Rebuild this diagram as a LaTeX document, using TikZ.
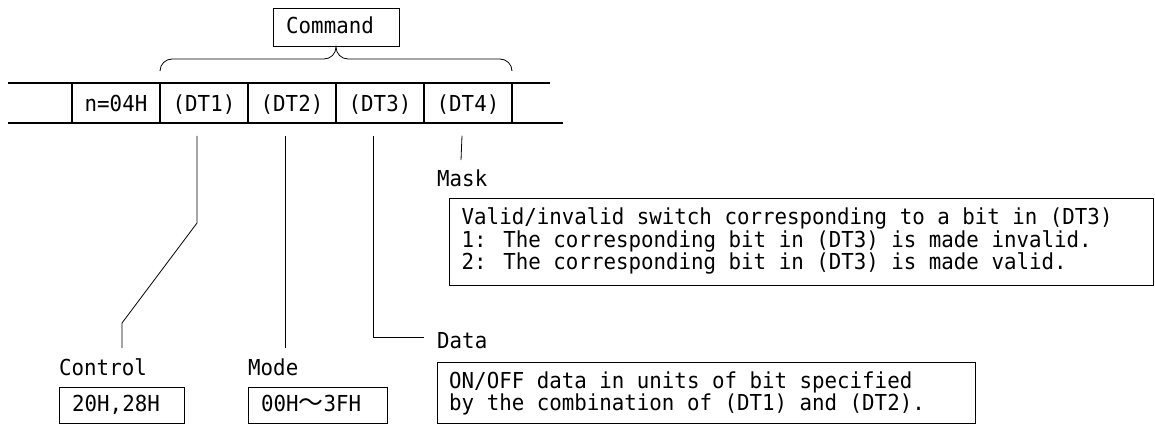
\documentclass[tikz,border=0pt]{standalone}
\usepackage{fontspec}
\usetikzlibrary{calc}
\newfontfamily\gfont[FakeStretch=0.945]{DejaVu Sans Mono}
\newfontfamily\cjk[Scale=1.13]{Noto Sans CJK JP}
\begin{document}
\begin{tikzpicture}[x=1pt,y=1pt,
  txt/.style={font=\gfont\fontsize{22}{21.5}\selectfont, inner sep=0pt, anchor=base west},
  cell/.style={draw, line width=1.5pt, minimum width=88pt, minimum height=40pt, inner sep=0pt,
    font=\gfont\fontsize{22}{21.5}\selectfont, text height=16pt, text depth=0pt},
  rowline/.style={line width=1.5pt},
  boxe/.style={draw, line width=0.9pt, inner sep=0pt, anchor=north west},
  leader/.style={line width=0.8pt}]
\useasboundingbox (0,0) rectangle (1155,-423);

% Command box and brace
\node[boxe, minimum width=126pt, minimum height=38pt] (cmdbox) at (273,-8) {};
\node[txt] (cmd) at (286,-33.5) {Command};
\draw[leader] (160,-71) arc[start angle=180,end angle=90,radius=12] -- (324,-59)
  arc[start angle=270,end angle=360,radius=12]
  arc[start angle=180,end angle=270,radius=12] -- (500,-59)
  arc[start angle=90,end angle=0,radius=12];

% frame row
\draw[rowline] (8,-83) -- (550,-83);
\draw[rowline] (8,-123) -- (563,-123);
\node[cell] (n) at (116,-103) {n=04H};
\node[cell] (dt1) at (204,-103) {(DT1)};
\node[cell] (dt2) at (292,-103) {(DT2)};
\node[cell] (dt3) at (380,-103) {(DT3)};
\node[cell] (dt4) at (468,-103) {(DT4)};

% labels
\node[txt] (ctrl) at (59,-375) {Control};
\node[boxe, minimum width=125pt, minimum height=36pt] (ctrlbox) at (59,-387) {};
\node[txt] (ctrlv) at (72,-411) {20H,28H};

\node[txt] (mode) at (248,-375) {Mode};
\node[boxe, minimum width=139pt, minimum height=36pt] (modebox) at (248,-387) {};
\node[txt] (modev) at (261,-411) {00H{\cjk ～}3FH};

\node[txt] (data) at (437,-348) {Data};
\node[boxe, minimum width=538pt, minimum height=61pt] (databox) at (437,-362) {};
\node[txt] (data1) at (449,-388) {ON/OFF data in units of bit specified};
\node[txt] (data2) at (449,-410) {by the combination of (DT1) and (DT2).};

\node[txt] (mask) at (437,-186) {Mask};
\node[boxe, minimum width=704pt, minimum height=87pt] (maskbox) at (449,-198) {};
\node[txt] (mask1) at (461.5,-224) {Valid/invalid switch corresponding to a bit in (DT3)};
\node[txt] (mask2) at (461.5,-247) {1: The corresponding bit in (DT3) is made invalid.};
\node[txt] (mask3) at (461.5,-269) {2: The corresponding bit in (DT3) is made valid.};

% leaders
\coordinate (a1) at ($(dt1.south)+(-7,-12)$);
\coordinate (b1) at (197,-223);
\coordinate (c1) at (122,-323);
\coordinate (d1) at (122,-348);
\draw[leader] (a1) -- (b1) -- (c1) -- (d1);

\coordinate (a2) at ($(dt2.south)+(-7,-12)$);
\coordinate (d2) at (285,-348);
\draw[leader] (a2) -- (d2);

\coordinate (a3) at ($(dt3.south)+(-7,-12)$);
\coordinate (b3) at (373,-337);
\coordinate (d3) at (424,-337);
\draw[leader] (a3) -- (b3) -- (d3);

\coordinate (a4) at ($(dt4.south)+(-6,-12)$);
\coordinate (d4) at (461,-160);
\draw[leader] (a4) -- (d4);
\end{tikzpicture}
\end{document}
